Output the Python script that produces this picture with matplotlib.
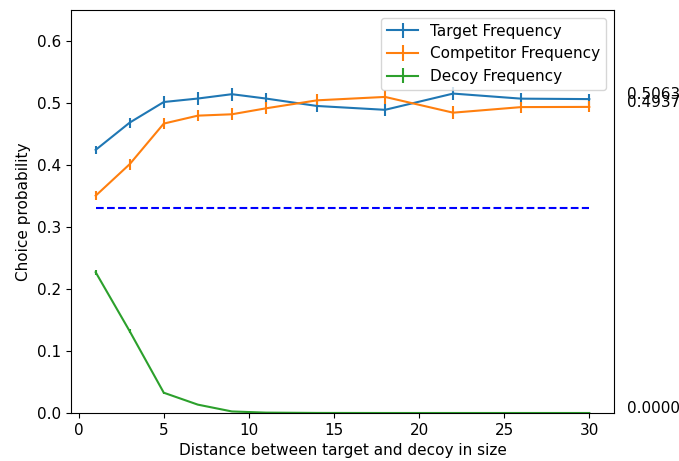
import matplotlib
matplotlib.use("Agg")
import matplotlib.pyplot as plt

# distance between target and decoy
dist = [1, 3, 5, 7, 9, 11, 14, 18, 22, 26, 30]

target = [0.4244, 0.4684, 0.5016, 0.5072, 0.5142, 0.5072, 0.4952, 0.4890, 0.5152, 0.5070, 0.5063]
competitor = [0.3505, 0.4014, 0.4668, 0.4796, 0.4818, 0.4914, 0.5043, 0.5098, 0.4844, 0.4934, 0.4937]
decoy = [0.2270, 0.1318, 0.0327, 0.0135, 0.0025, 0.0006, 0.0001, 0.0, 0.0, 0.0, 0.0]

target_err = [0.0065, 0.008, 0.0094, 0.0105, 0.0107, 0.0095, 0.0094, 0.0094, 0.011, 0.009, 0.009]
competitor_err = [0.0075, 0.009, 0.0094, 0.0094, 0.010, 0.0095, 0.011, 0.011, 0.011, 0.009, 0.009]
decoy_err = [0.004, 0.003, 0.0015, 0.001, 0.0005, 0.0002, 0.0, 0.0, 0.0, 0.0, 0.0]

chance = 0.33

plt.rcParams['font.size'] = 11

fig, ax = plt.subplots(figsize=(6.79, 4.61), dpi=100)
fig.subplots_adjust(left=71/679, right=614/679, top=1-10/461, bottom=48/461)

ax.errorbar(dist, target, yerr=target_err, label='Target Frequency')
ax.errorbar(dist, competitor, yerr=competitor_err, label='Competitor Frequency')
ax.errorbar(dist, decoy, yerr=decoy_err, label='Decoy Frequency')
ax.plot([dist[0], dist[-1]], [chance, chance], 'b--')

for vals in (target, competitor, decoy):
    ax.text(dist[-1] + 2.2, vals[-1], '%.4f' % vals[-1])

ax.set_ylim(0, 0.65)
ax.set_xlabel('Distance between target and decoy in size')
ax.set_ylabel('Choice probability')
ax.legend(loc='upper right')

fig.savefig('out.png', dpi=100)
